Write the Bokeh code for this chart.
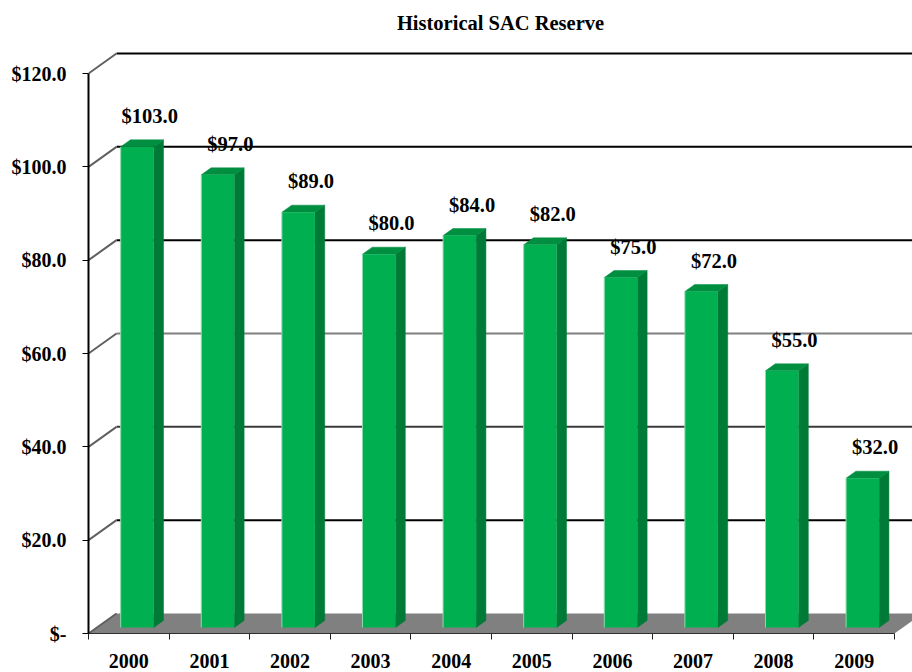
from bokeh.plotting import figure
from bokeh.models import Range1d, FixedTicker, ColumnDataSource
from bokeh.core.properties import value
from bokeh.embed import file_html
from bokeh.resources import INLINE

# ---------------- data ----------------
years = ["2000", "2001", "2002", "2003", "2004", "2005", "2006", "2007", "2008", "2009"]
reserve = [103.0, 97.0, 89.0, 80.0, 84.0, 82.0, 75.0, 72.0, 55.0, 32.0]
y_ticks = [0, 20, 40, 60, 80, 100, 120]
y_tick_labels = ["$-", "$20.0", "$40.0", "$60.0", "$80.0", "$100.0", "$120.0"]
value_labels = ["$%.1f" % v for v in reserve]

# ---------------- layout constants ----------------
W, H = 912, 672
B_LEFT, B_TOP, B_BOTTOM = 88, 40, 39
FRAME_W = W - B_LEFT
FRAME_H = H - B_TOP - B_BOTTOM
Y_MAX_TICK = 120.0
PX_PER_Y = 560.0 / Y_MAX_TICK          # pixels per value unit
CAT_PX = 80.6                            # pixels per category
X_END = FRAME_W / CAT_PX
Y_END = FRAME_H / PX_PER_Y

DX = 28.0 / CAT_PX                       # depth offset (x units)
DY = 20.0 / PX_PER_Y                     # depth offset (y units)
BAR_W = 0.41
F0, F1 = 0.30, 0.65                      # bar front/back depth fraction

SERIF = "Liberation Serif"

p = figure(width=W, height=H, output_backend="svg", toolbar_location=None,
           x_range=Range1d(0, X_END), y_range=Range1d(0, Y_END),
           min_border_left=B_LEFT, min_border_right=0,
           min_border_top=B_TOP, min_border_bottom=B_BOTTOM,
           title="Historical SAC Reserve")
p.outline_line_color = None
p.xgrid.visible = False
p.ygrid.visible = False
p.background_fill_color = "white"
p.border_fill_color = "white"

p.title.align = "center"
p.title.text_font = SERIF
p.title.text_font_style = "bold"
p.title.text_font_size = "20.5px"
p.title.text_color = "black"
p.title.standoff = 14

n = len(reserve)

# ---------------- floor ----------------
p.patch([0, n, n + DX, DX], [0, 0, DY, DY], fill_color="#808080", line_color=None)

# ---------------- back wall gridlines and side-wall diagonals ----------------
grid_colors = {0: "#404040", 20: "black", 40: "#3a3a3a", 60: "#808080",
               80: "black", 100: "black", 120: "black"}
gx0, gx1, gy, gc = [], [], [], []
for t in y_ticks:
    if t == 0:
        continue
    gx0.append(DX); gx1.append(X_END); gy.append(t + DY); gc.append(grid_colors[t])
p.segment(x0=gx0, y0=gy, x1=gx1, y1=gy, line_color=gc, line_width=2)

dx0 = [0] * len(y_ticks)
dy0 = list(y_ticks)
dx1 = [DX] * len(y_ticks)
dy1 = [t + DY for t in y_ticks]
p.segment(x0=dx0, y0=dy0, x1=dx1, y1=dy1, line_color="#606060", line_width=2)

# ---------------- 3D bars ----------------
ddx = (F1 - F0) * DX
ddy = (F1 - F0) * DY
fx0, fx1, fy0, fy1 = [], [], [], []
side_xs, side_ys, top_xs, top_ys = [], [], [], []
for i, v in enumerate(reserve):
    c = i + 0.5
    x0 = c - BAR_W / 2 + F0 * DX
    x1 = c + BAR_W / 2 + F0 * DX
    y0 = F0 * DY
    y1 = v + F0 * DY
    fx0.append(x0); fx1.append(x1); fy0.append(y0); fy1.append(y1)
    side_xs.append([x1, x1 + ddx, x1 + ddx, x1])
    side_ys.append([y0, y0 + ddy, y1 + ddy, y1])
    top_xs.append([x0, x1, x1 + ddx, x0 + ddx])
    top_ys.append([y1, y1, y1 + ddy, y1 + ddy])

p.patches(side_xs, side_ys, fill_color="#007A37", line_color="#007A37", line_width=0.5)
p.patches(top_xs, top_ys, fill_color="#008F40", line_color="#008F40", line_width=0.5)
p.quad(left=fx0, right=fx1, bottom=fy0, top=fy1, fill_color="#00B050", line_color=None)
p.segment(x0=fx0, y0=fy0, x1=fx0, y1=fy1, line_color="#8ADBAE", line_width=1)

# ---------------- value labels ----------------
LABEL_DX = 0.26
LABEL_DY = 31.0 / PX_PER_Y
lab_src = ColumnDataSource(dict(
    x=[i + 0.5 + LABEL_DX for i in range(n)],
    y=[v + F0 * DY + LABEL_DY for v in reserve],
    t=value_labels))
p.text(x="x", y="y", text="t", source=lab_src, text_align="center",
       text_baseline="middle", text_font=value(SERIF), text_font_style="bold",
       text_font_size="20.5px", text_color="black")

# ---------------- axes ----------------
ya = p.yaxis[0]
ya.ticker = FixedTicker(ticks=y_ticks, minor_ticks=[])
ya.major_label_overrides = {t: lab for t, lab in zip(y_ticks, y_tick_labels)}
ya.bounds = (0, Y_MAX_TICK)
ya.axis_line_color = "black"
ya.axis_line_width = 2
ya.major_tick_line_color = "black"
ya.major_tick_line_width = 1
ya.major_tick_out = 6
ya.major_tick_in = 0
ya.minor_tick_line_color = None
ya.major_label_standoff = 16
ya.major_label_text_font = SERIF
ya.major_label_text_font_style = "bold"
ya.major_label_text_font_size = "20px"
ya.major_label_text_color = "black"

xa = p.xaxis[0]
centers = [i + 0.5 for i in range(n)]
xa.ticker = FixedTicker(ticks=centers, minor_ticks=list(range(n + 1)))
xa.major_label_overrides = {c: y for c, y in zip(centers, years)}
xa.bounds = (0, n)
xa.axis_line_color = "#303030"
xa.axis_line_width = 1
xa.major_tick_line_color = None
xa.major_tick_out = 0
xa.major_tick_in = 0
xa.minor_tick_line_color = "#202020"
xa.minor_tick_out = 6
xa.minor_tick_in = 0
xa.major_label_standoff = 14
xa.major_label_text_font = SERIF
xa.major_label_text_font_style = "bold"
xa.major_label_text_font_size = "20px"
xa.major_label_text_color = "black"

open("out.html", "w").write(file_html(p, INLINE))
